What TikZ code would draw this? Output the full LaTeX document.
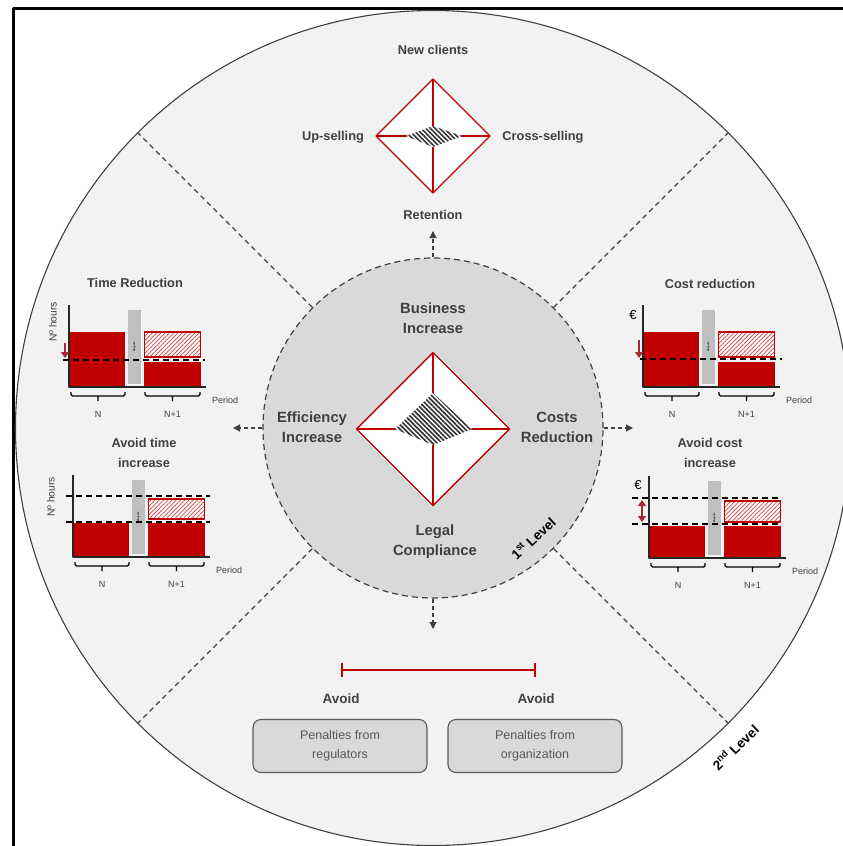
\documentclass[tikz,border=0pt]{standalone}
\usepackage{fontspec}
\setmainfont{Liberation Sans}
\usetikzlibrary{calc}
\usetikzlibrary{arrows.meta}
\usetikzlibrary{patterns.meta}
\definecolor{dred}{HTML}{C00000}
\definecolor{arrred}{HTML}{A8283A}
\definecolor{txtgray}{HTML}{404040}
\definecolor{boxgray}{HTML}{595959}
\definecolor{ringgray}{HTML}{F2F2F2}
\definecolor{coregray}{HTML}{D9D9D9}
\definecolor{bargray}{HTML}{BFBFBF}
\tikzstyle{every node}=[inner sep=0pt,text=txtgray]
\tikzstyle{every path}=[line join=round]
\newcommand{\fs}[2]{\fontsize{#1}{#2}\selectfont}
\newcommand{\radar}[6]{%
	\draw[radarline,fill=white] ($(#1)+(0,-#2)$) -- ($(#1)+(#2,0)$) -- ($(#1)+(0,#2)$) -- ($(#1)+(-#2,0)$) -- cycle;
	\draw[radarline] ($(#1)+(0,-#2)$) -- ($(#1)+(0,#2)$) ($(#1)+(-#2,0)$) -- ($(#1)+(#2,0)$);
	\fill[hatchfill] ($(#1)+(0,-#3)$) -- ($(#1)+(#4,0)$) -- ($(#1)+(0,#5)$) -- ($(#1)+(-#6,0)$) -- cycle;}
\newcommand{\periodbrace}[2]{\draw[brace] (#1,-5) -- (#1,-9) -- (#2,-9) -- (#2,-5) ($(#1,-9)!0.5!(#2,-9)$) -- ++(0,-5);}
\newcommand{\barchart}[6]{%
	\begin{scope}[shift={#2},yscale=-1]
		\fill[dred] (0,0) rectangle (56,#3);
		\fill[bargray] (59,3) rectangle (72,77);
		\node[rotate=90,font=\fs{2.5}{3}\bfseries,text=black] (#1-prj) at (65.5,40) {Projects};
		\fill[dred] (75,0) rectangle (132,#4);
		\draw[hatchbox] (75.7,#5) rectangle (131.3,#6);
		\draw[axisline] (0,82) -- (0,0) -- (137,0);
		\periodbrace{2}{56}
		\periodbrace{76}{131}
		\node[ticklbl] (#1-n) at (29,-27) {N};
		\node[ticklbl] (#1-nn) at (103.5,-27) {N+1};
		\node[ticklbl,anchor=west] (#1-per) at (143,-13) {Period};
	\end{scope}}

\begin{document}
\begin{tikzpicture}[x=1pt,y=-1pt]
	\tikzstyle{radarline}=[draw=dred,line width=1.4pt]
	\tikzstyle{hatchfill}=[preaction={fill=white},pattern={Lines[angle=-45,distance=3.3pt,line width=1.6pt]},pattern color=black!80]
	\tikzstyle{hatchbox}=[draw=dred,line width=1.3pt,preaction={fill=white},pattern={Lines[angle=45,distance=3pt,line width=0.7pt]},pattern color=dred!75]
	\tikzstyle{axisline}=[draw=black!85,line width=1.6pt]
	\tikzstyle{brace}=[draw=black,line width=1.4pt,rounded corners=1.5pt]
	\tikzstyle{ticklbl}=[font=\fs{9}{10}]
	\tikzstyle{lbl}=[font=\fs{14.8}{20}\bfseries,align=center]
	\tikzstyle{sublbl}=[font=\fs{12.8}{20}\bfseries,align=center]
	\tikzstyle{divider}=[draw=txtgray,dash pattern=on 5pt off 4pt,line width=1.1pt]
	\tikzstyle{flowarrow}=[draw=txtgray,dash pattern=on 4pt off 3pt,line width=1.2pt,-{Triangle[length=7pt,width=7pt]}]
	\tikzstyle{levelline}=[draw=black,dash pattern=on 6pt off 4pt,line width=1.6pt]
	\tikzstyle{markarrow}=[draw=arrred,line width=2.4pt,-{Triangle[length=6pt,width=8pt]}]
	\tikzstyle{avoidbar}=[draw=dred,line width=2pt,{Bar[width=14pt]}-{Bar[width=14pt]}]
	\tikzstyle{penbox}=[draw=boxgray,fill=coregray,line width=1.1pt,rounded corners=8pt,minimum width=174pt,minimum height=53pt,align=center,font=\fs{12.5}{19},text=boxgray]
	
	\useasboundingbox (0,0) rectangle (843,846);
	\draw[line width=3pt] (13,846) -- (13,8) -- (843,8);
	
	% the two levels
	\node[circle,draw=txtgray,fill=ringgray,line width=1.1pt,minimum size=835pt] (lvltwo) at (433,428) {};
	\node[circle,draw=txtgray,dash pattern=on 6pt off 4pt,fill=coregray,line width=1.2pt,minimum size=340pt] (lvlone) at (433,428) {};
	\foreach \a in {45,135,225,315}
		\draw[divider] (lvlone.\a) -- (lvltwo.\a);
	
	% 1st level
	\coordinate (corec) at (433,429);
	\radar{corec}{76.5}{36}{39}{16}{38}
	\node[lbl] (biz) at (433,318) {Business\\Increase};
	\node[lbl] (eff) at (312,427) {Efficiency\\Increase};
	\node[lbl] (cst) at (557,427) {Costs\\Reduction};
	\node[lbl] (leg) at (435,542) {Legal\\Compliance};
	\node[rotate=43,font=\fs{13.5}{14}\bfseries,text=black] (lvlonelbl) at (533,538) {1\textsuperscript{st} Level};
	
	% business increase
	\coordinate (bizc) at (433,136);
	\radar{bizc}{57}{10}{29}{11}{27}
	\node[sublbl] (newcl) at (433,50) {New clients};
	\node[sublbl] (upsell) at (333,137) {Up-selling};
	\node[sublbl] (xsell) at (543,137) {Cross-selling};
	\node[sublbl] (ret) at (433,215) {Retention};
	
	\coordinate (retout) at (433,231);
	\coordinate (effout) at (233,428);
	\coordinate (cstout) at (633,428);
	\coordinate (legout) at (433,629);
	\draw[flowarrow] (lvlone.north) -- (retout);
	\draw[flowarrow] (lvlone.west) -- (effout);
	\draw[flowarrow] (lvlone.east) -- (cstout);
	\draw[flowarrow] (lvlone.south) -- (legout);
	
	% efficiency increase
	\node[sublbl] (timered) at (135,283) {Time Reduction};
	\barchart{tr}{(69,387)}{55}{25}{30}{55}
	\draw[levelline] (63,360) -- (205,360);
	\draw[markarrow] (65,343) -- (65,358);
	\node[rotate=90,font=\fs{10.3}{11}] (trax) at (53,322) {Nº hours};
	
	\node[sublbl] (timeinc) at (144,453) {Avoid time\\increase};
	\barchart{at}{(73,557)}{34}{34}{38}{58}
	\draw[levelline] (66,496) -- (210,496);
	\draw[levelline] (66,522) -- (210,522);
	\node[rotate=90,font=\fs{10.3}{11}] (atax) at (51,497) {Nº hours};
	
	% costs reduction
	\node[sublbl] (costred) at (710,284) {Cost reduction};
	\barchart{cr}{(643,387)}{55}{25}{30}{55}
	\draw[levelline] (640,359) -- (782,359);
	\draw[markarrow] (639,340) -- (639,358);
	\node[font=\fs{13}{14},text=black] (crax) at (633,315) {€};
	
	\node[sublbl] (costinc) at (710,453) {Avoid cost\\increase};
	\barchart{ac}{(649,558)}{32}{32}{36}{57}
	\draw[levelline] (632,498) -- (782,498);
	\draw[levelline] (632,524) -- (782,524);
	\draw[markarrow,{Triangle[length=6pt,width=8pt]}-{Triangle[length=6pt,width=8pt]}] (642,500) -- (642,522);
	\node[font=\fs{13}{14},text=black] (acax) at (638,485) {€};
	
	% legal compliance
	\node[sublbl,font=\fs{13.5}{20}\bfseries] (avreg) at (341,699) {Avoid};
	\node[sublbl,font=\fs{13.5}{20}\bfseries] (avorg) at (536,699) {Avoid};
	\draw[avoidbar] ([yshift=29pt]avreg.center) -- ([yshift=29pt]avorg.center);
	\node[penbox] (penreg) at (340,746) {Penalties from\\regulators};
	\node[penbox] (penorg) at (535,746) {Penalties from\\organization};
	\node[rotate=44,font=\fs{13.5}{14}\bfseries,text=black] (lvltwolbl) at (735,747) {2\textsuperscript{nd} Level};
\end{tikzpicture}
\end{document}
